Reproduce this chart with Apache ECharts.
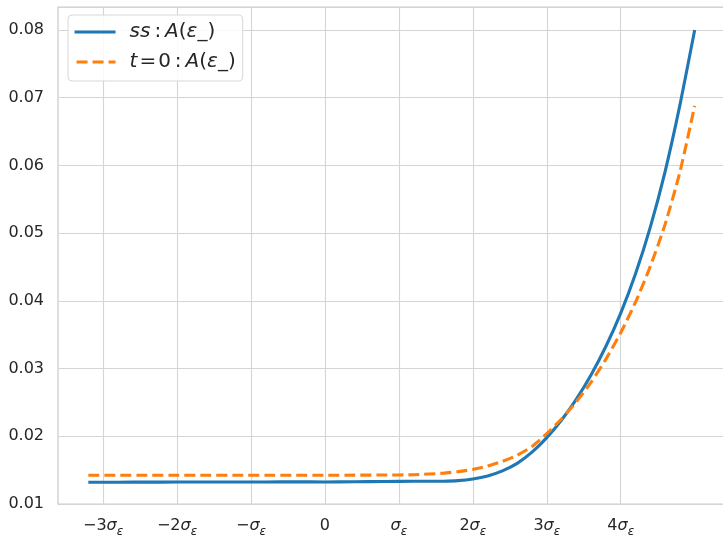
<!DOCTYPE html>
<html>
<head>
<meta charset="utf-8">
<script src="https://cdn.jsdelivr.net/npm/echarts@6/dist/echarts.min.js"></script>
<style>html,body{margin:0;padding:0;background:#fff}#c{width:723px;height:536px}</style>
</head>
<body>
<div id="c"></div>
<script>
// x positions in units of sigma_epsilon
const xs = [-3.2,-2.8,-2.4,-2.0,-1.6,-1.2,-0.8,-0.4,0.0,0.4,0.8,1.2,1.6,1.8,2.0,2.2,2.4,2.6,2.8,3.0,3.2,3.4,3.6,3.8,4.0,4.2,4.4,4.6,4.8,5.0];
const ssValues = [0.01322,0.01322,0.01323,0.01324,0.01324,0.01325,0.01326,0.01327,0.01326,0.01328,0.01332,0.01335,0.01337,0.01345,0.01370,0.01415,0.01490,0.01600,0.01765,0.01980,0.02240,0.02550,0.02910,0.03330,0.03820,0.04400,0.05090,0.05910,0.06890,0.08000];
const t0Values = [0.01425,0.01425,0.01425,0.01425,0.01425,0.01425,0.01425,0.01425,0.01425,0.01426,0.01428,0.01432,0.01455,0.01478,0.01510,0.01560,0.01630,0.01720,0.01850,0.02040,0.02260,0.02510,0.02800,0.03140,0.03530,0.03980,0.04510,0.05130,0.05900,0.06880];
const xTicks = [-3,-2,-1,0,1,2,3,4];
const xTickLabels = ['{m|\u22123}{g|\u03c3}{s|\u03b5}','{m|\u22122}{g|\u03c3}{s|\u03b5}','{m|\u2212}{g|\u03c3}{s|\u03b5}','{m|0}','{g|\u03c3}{s|\u03b5}','{m|2}{g|\u03c3}{s|\u03b5}','{m|3}{g|\u03c3}{s|\u03b5}','{m|4}{g|\u03c3}{s|\u03b5}'];
const seriesNames = ['ss', 't0'];
const legendLabels = {
  ss: '{sp|}{i|ss}{n|\u2009:\u2009}{i|A}{n|(}{i|\u03b5}{n|_)}',
  t0: '{sp|}{i|t}{n|\u200a=\u200a0\u2009:\u2009}{i|A}{n|(}{i|\u03b5}{n|_)}'
};

const FONT = 'DejaVu Sans';
const TXT = '#262626';
const LFS = 20;
const chart = echarts.init(document.getElementById('c'), null, {renderer: 'canvas'});
const pairs = (ys) => xs.map((x, i) => [x, ys[i]]);

const legRich = {
  sp: {width: 9, height: 22},
  i: {fontFamily: FONT, fontSize: LFS, fontStyle: 'italic', color: TXT, lineHeight: 22},
  n: {fontFamily: FONT, fontSize: LFS, color: TXT, lineHeight: 22}
};

chart.setOption({
  animation: false,
  backgroundColor: '#ffffff',
  textStyle: {fontFamily: FONT},
  grid: {left: 58, right: -2, top: 7, bottom: 32, show: true, borderColor: '#cccccc', borderWidth: 1.25,
         containLabel: false, outerBoundsMode: 'none'},
  xAxis: {
    type: 'value', min: -3.61, max: 5.41,
    axisLine: {show: false},
    axisTick: {show: false, customValues: xTicks},
    splitLine: {show: true, lineStyle: {color: '#d5d5d5', width: 1.1}},
    axisLabel: {
      customValues: xTicks,
      margin: 14,
      formatter: (v) => xTickLabels[xTicks.indexOf(Math.round(v))] || '',
      rich: {
        m: {fontFamily: FONT, fontSize: 16, color: TXT, lineHeight: 20, verticalAlign: 'top'},
        g: {fontFamily: FONT, fontSize: 16, fontStyle: 'italic', color: TXT, lineHeight: 20, verticalAlign: 'top'},
        s: {fontFamily: FONT, fontSize: 12, fontStyle: 'italic', color: TXT, lineHeight: 20, verticalAlign: 'top', padding: [8,0,0,0]}
      }
    }
  },
  yAxis: {
    type: 'value', min: 0.01, max: 0.0834, interval: 0.01,
    axisLine: {show: false}, axisTick: {show: false},
    splitLine: {show: true, lineStyle: {color: '#d5d5d5', width: 1.1}},
    axisLabel: {margin: 14, showMaxLabel: false, fontFamily: FONT, fontSize: 16, color: TXT, formatter: (v) => v.toFixed(2)}
  },
  legend: {
    orient: 'vertical', left: 68, top: 15,
    padding: [6, 7, 8, 5], itemGap: 8, itemWidth: 41, itemHeight: 14,
    backgroundColor: 'rgba(255,255,255,0.85)', borderColor: '#d8d8d8', borderWidth: 1, borderRadius: 4,
    itemStyle: {opacity: 0, borderWidth: 0},
    lineStyle: {width: 3.1, dashOffset: -2},
    data: seriesNames,
    formatter: (name) => legendLabels[name],
    textStyle: {fontFamily: FONT, fontSize: LFS, color: TXT, lineHeight: 22, rich: legRich}
  },
  series: [
    {name: 'ss', type: 'line', data: pairs(ssValues), showSymbol: false, symbol: 'none', smooth: 0.2,
     lineStyle: {color: '#1f77b4', width: 3.1}, itemStyle: {color: '#1f77b4'}, z: 3},
    {name: 't0', type: 'line', data: pairs(t0Values), showSymbol: false, symbol: 'none', smooth: 0.2,
     lineStyle: {color: '#ff7f0e', width: 3.1, type: [11, 5], cap: 'butt'}, itemStyle: {color: '#ff7f0e'}, z: 4}
  ]
});
</script>
</body>
</html>
